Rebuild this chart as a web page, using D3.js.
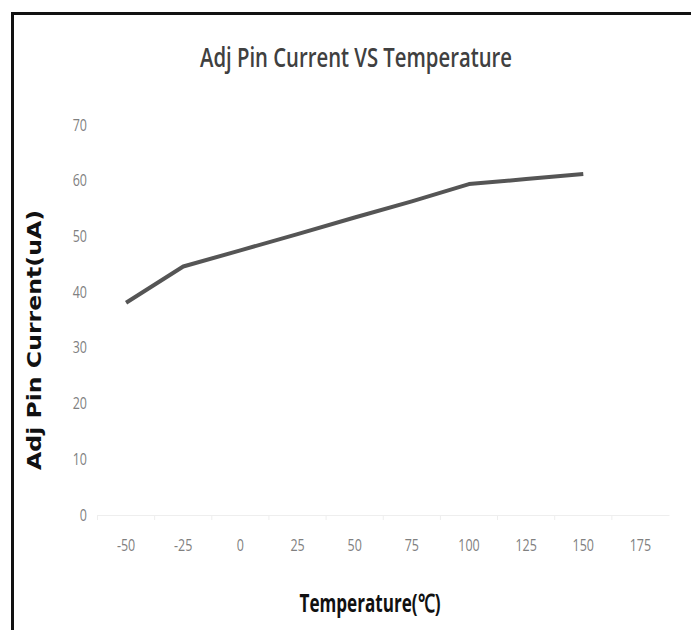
<!DOCTYPE html>
<html>
<head>
<meta charset="utf-8">
<script src="https://cdn.jsdelivr.net/npm/d3@7"></script>
<style>
  body { margin: 0; background: #fff; }
  text { font-family: "Open Sans", sans-serif; }
</style>
</head>
<body>
<script>
// temperature categories (deg C) and measured adj pin current (uA)
var temps = ["-50", "-25", "0", "25", "50", "75", "100", "125", "150", "175"];
var measTemps = ["-50", "-25", "0", "25", "50", "75", "100", "125", "150"];
var current = [38.1, 44.6, 47.5, 50.4, 53.4, 56.3, 59.4, 60.3, 61.2];
var yTicks = [0, 10, 20, 30, 40, 50, 60, 70];

var width = 691,
	height = 630,
	squeeze = 0.78; // narrow look of the original font

var svg = d3.select("body").append("svg")
	.attr("width", width)
	.attr("height", height);

// frame (top + left only, image is cropped on the other sides)
svg.append("path")
	.attr("d", "M12.5,630 L12.5,13.5 L691,13.5")
	.style("fill", "none")
	.style("stroke", "#111")
	.style("stroke-width", 3);

var x = d3.scaleBand()
	.domain(temps)
	.range([97.5, 669]);

var y = d3.scaleLinear()
	.domain([0, 70])
	.range([515, 125]);

// faint category axis
var xAxis = svg.append("g")
	.attr("transform", "translate(0," + y(0) + ")")
	.call(d3.axisBottom(x).tickSize(0).tickFormat(""));
xAxis.select(".domain").style("stroke", "#eee");

svg.append("g").selectAll("line")
	.data(temps)
	.enter()
	.append("line")
	.attr("x1", function(d){ return x(d); })
	.attr("x2", function(d){ return x(d); })
	.attr("y1", y(0))
	.attr("y2", y(0) + 5)
	.style("stroke", "#eee");

svg.append("g").selectAll("text")
	.data(temps)
	.enter()
	.append("text")
	.attr("transform", function(d){
		return "translate(" + (x(d) + x.bandwidth() / 2) + ",551) scale(" + squeeze + ",1)";
	})
	.attr("text-anchor", "middle")
	.style("font-size", "16px")
	.style("fill", "#808080")
	.text(function(d){ return d; });

svg.append("g").selectAll("text")
	.data(yTicks)
	.enter()
	.append("text")
	.attr("transform", function(d){
		return "translate(87," + y(d) + ") scale(" + squeeze + ",1)";
	})
	.attr("dy", ".35em")
	.attr("text-anchor", "end")
	.style("font-size", "16px")
	.style("fill", "#808080")
	.text(function(d){ return d; });

var line = d3.line()
	.x(function(d, i){ return x(measTemps[i]) + x.bandwidth() / 2; })
	.y(function(d){ return y(d); });

svg.append("path")
	.datum(current)
	.attr("d", line)
	.style("fill", "none")
	.style("stroke", "#555")
	.style("stroke-width", 4)
	.style("stroke-linejoin", "round");

// titles
svg.append("text")
	.attr("x", 356)
	.attr("y", 67)
	.attr("text-anchor", "middle")
	.attr("textLength", 312)
	.attr("lengthAdjust", "spacingAndGlyphs")
	.style("font-size", "27px")
	.style("font-weight", "600")
	.style("fill", "#404040")
	.text("Adj Pin Current VS Temperature");

svg.append("text")
	.attr("x", 370)
	.attr("y", 612)
	.attr("text-anchor", "middle")
	.attr("textLength", 141)
	.attr("lengthAdjust", "spacingAndGlyphs")
	.style("font-size", "25px")
	.style("font-weight", "bold")
	.style("fill", "#111")
	.text("Temperature(℃)");

svg.append("text")
	.attr("transform", "translate(41,340) rotate(-90)")
	.attr("text-anchor", "middle")
	.attr("textLength", 260)
	.attr("lengthAdjust", "spacingAndGlyphs")
	.style("font-family", "DejaVu Sans")
	.style("font-size", "20px")
	.style("font-weight", "bold")
	.style("fill", "#111")
	.text("Adj Pin Current(uA)");
</script>
</body>
</html>
